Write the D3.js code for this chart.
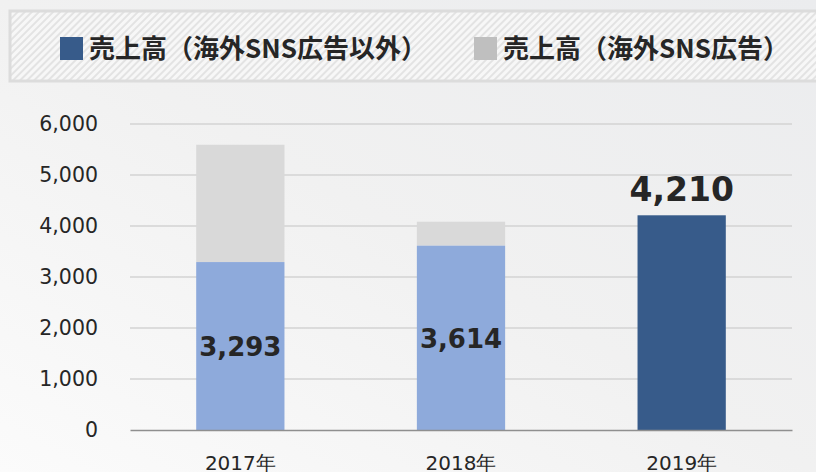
<!DOCTYPE html>
<html>
<head>
<meta charset="utf-8">
<script src="https://cdn.jsdelivr.net/npm/d3@7"></script>
<style>
  html, body { margin: 0; padding: 0; }
  body { width: 816px; height: 472px; overflow: hidden; }
</style>
</head>
<body>
<svg id="chart"></svg>
<script>
// DATA
var years = ["2017年", "2018年", "2019年"]
var salesOther = [3293, 3614, 4210]   // 売上高（海外SNS広告以外）
var salesSns = [2300, 470, 0]         // 売上高（海外SNS広告）
var yTicks = [0, 1000, 2000, 3000, 4000, 5000, 6000]
var seriesNames = ["売上高（海外SNS広告以外）", "売上高（海外SNS広告）"]

const W = 816, H = 472
const margin = {top: 124, right: 24, bottom: 42, left: 130}
const width = W - margin.left - margin.right,
      height = H - margin.top - margin.bottom

const darkBlue = "#375b8a", lightBlue = "#8eaadb", grey = "#d9d9d9", legendGrey = "#bfbfbf"

var svg = d3.select("#chart").attr("width", W).attr("height", H)
var defs = svg.append("defs")

// background gradient
var bg = defs.append("linearGradient").attr("id", "bg")
    .attr("x1", "0").attr("y1", "1").attr("x2", "1").attr("y2", "0")
bg.append("stop").attr("offset", "0").attr("stop-color", "#fbfbfb")
bg.append("stop").attr("offset", "0.5").attr("stop-color", "#f1f1f1")
bg.append("stop").attr("offset", "1").attr("stop-color", "#ebecee")
svg.append("rect").attr("width", W).attr("height", H).attr("fill", "url(#bg)")

// hatch for the legend box
var hatch = defs.append("pattern").attr("id", "hatch")
    .attr("patternUnits", "userSpaceOnUse")
    .attr("width", 5).attr("height", 5)
    .attr("patternTransform", "rotate(45)")
hatch.append("rect").attr("width", 5).attr("height", 5).attr("fill", "#f7f7f7")
hatch.append("rect").attr("width", 2).attr("height", 5).attr("fill", "#e3e3e3")

// LEGEND
var legend = svg.append("g")
legend.append("rect")
    .attr("x", 10).attr("y", 11).attr("width", 820).attr("height", 70)
    .attr("fill", "url(#hatch)")
    .attr("stroke", "#dcdcdc").attr("stroke-width", 3)

var legendItems = [
  {name: seriesNames[0], color: darkBlue, x: 60},
  {name: seriesNames[1], color: legendGrey, x: 474}
]
legendItems.forEach(function(d) {
  legend.append("rect")
      .attr("x", d.x).attr("y", 37).attr("width", 23).attr("height", 23)
      .attr("fill", d.color)
  legend.append("text")
      .attr("x", d.x + 29).attr("y", 58)
      .attr("font-family", "'Noto Sans CJK JP', sans-serif")
      .attr("font-weight", "bold")
      .attr("font-size", 26)
      .attr("fill", "#262626")
      .text(d.name)
})

// PLOT
var g = svg.append("g").attr("transform", `translate(${margin.left}, ${margin.top})`)

const x = d3.scaleBand()
    .domain(years)
    .range([0, width])
    .paddingInner(0.6)
    .paddingOuter(0.3)
const y = d3.scaleLinear()
    .domain([0, 6000])
    .range([height, 0])

// gridlines
g.append("g")
  .selectAll("line")
  .data(yTicks.slice(1))
  .enter().append("line")
    .attr("x1", 0).attr("x2", width)
    .attr("y1", d => y(d)).attr("y2", d => y(d))
    .attr("stroke", "#d3d3d3").attr("stroke-width", 1.5)

// y axis labels
var yAxis = g.append("g")
    .call(d3.axisLeft(y).tickValues(yTicks).tickFormat(d3.format(",")).tickSize(0).tickPadding(32))
yAxis.select(".domain").remove()
yAxis.selectAll("text")
    .attr("font-family", "'DejaVu Sans', Verdana, sans-serif")
    .attr("font-size", 20.5)
    .attr("fill", "#262626")

// bars
var stack = years.map(function(yr, i) {
  return {year: yr, other: salesOther[i], sns: salesSns[i], i: i}
})

g.selectAll(".sns")
  .data(stack.filter(d => d.sns > 0))
  .enter().append("rect")
    .attr("x", d => x(d.year))
    .attr("width", x.bandwidth())
    .attr("y", d => y(d.other + d.sns))
    .attr("height", d => y(d.other) - y(d.other + d.sns))
    .attr("fill", grey)

g.selectAll(".other")
  .data(stack)
  .enter().append("rect")
    .attr("x", d => x(d.year))
    .attr("width", x.bandwidth())
    .attr("y", d => y(d.other))
    .attr("height", d => height - y(d.other))
    .attr("fill", d => d.i === years.length - 1 ? darkBlue : lightBlue)

// x axis
var xAxis = g.append("g")
    .attr("transform", `translate(0, ${height})`)
    .call(d3.axisBottom(x).tickSize(0).tickPadding(26))
xAxis.select(".domain").attr("stroke", "#8f8f8f").attr("stroke-width", 1.5)
xAxis.selectAll("text")
    .attr("font-family", "'DejaVu Sans', Verdana, sans-serif")
    .attr("font-size", 20)
    .attr("fill", "#262626")

// value labels
g.selectAll(".val")
  .data(stack)
  .enter().append("text")
    .attr("x", d => x(d.year) + x.bandwidth() / 2)
    .attr("y", function(d) {
      if (d.i === years.length - 1) return y(d.other) - 14
      return (y(d.other) + height) / 2 + 10
    })
    .attr("text-anchor", "middle")
    .attr("font-family", "'DejaVu Sans', Verdana, sans-serif")
    .attr("font-weight", "bold")
    .attr("font-size", d => d.i === years.length - 1 ? 33 : 26)
    .attr("fill", "#262626")
    .text(d => d3.format(",")(d.other))
</script>
</body>
</html>
